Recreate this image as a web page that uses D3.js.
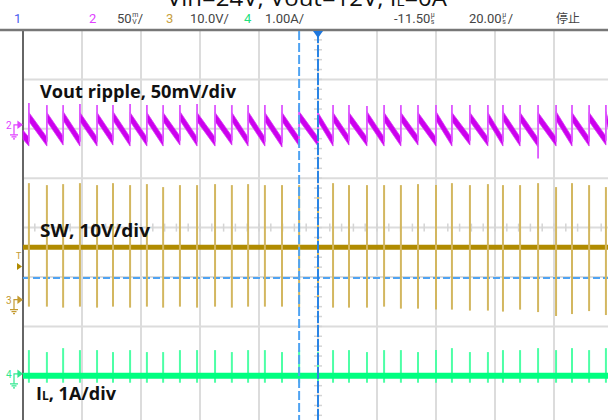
<!DOCTYPE html>
<html><head><meta charset="utf-8">
<script src="https://cdn.jsdelivr.net/npm/d3@7"></script>
<style>html,body{margin:0;padding:0;background:#fff;overflow:hidden}svg{display:block}</style>
</head><body>
<svg id="c" width="608" height="420"></svg>
<script>
// ---- data (time in µs, 20 µs/div, 10 div) ----
const spikeT = [2.0, 8.1, 13.6, 19.3, 25.1, 30.5, 36.3, 42.0, 47.5, 53.2, 59.0, 65.1, 70.8, 76.3, 82.0, 87.8, 93.6, 100.0, 105.1, 110.5, 116.6, 122.4, 128.1, 133.9, 140.0, 145.4, 151.5, 157.6, 162.7, 168.5, 174.6, 180.7, 186.1, 191.9, 197.6];
// CH3 SW node (V)
const swBase = 11.0;
const swTop = [24.0, 23.6, 23.8, 24.0, 23.6, 24.0, 23.6, 23.8, 23.2, 23.6, 23.6, 23.8, 23.6, 23.8, 23.6, 23.6, 23.6, 23.2, 24.0, 23.6, 23.6, 23.6, 23.6, 23.8, 23.6, 24.0, 23.6, 23.8, 23.6, 23.6, 24.0, 23.2, 24.0, 23.6, 23.2];
const swBottom = [-1.0, -1.0, -1.2, -1.0, -1.2, -1.0, -1.2, -1.0, -1.2, -1.0, -1.2, -1.0, -1.2, -1.0, -1.0, -1.0, -1.2, -1.6, -1.2, -1.2, -1.2, -1.0, -1.4, -1.4, -1.6, -1.6, -1.8, -1.8, -2.0, -1.6, -2.1, -2.9, -2.5, -1.9, -2.7];
// CH2 Vout ripple (mV)
const ripStart = -6;
const ripPeak = [12, 12, 13, 12, 12, 13, 12, 12, 12, 13, 12, 12, 12, 13, 12, 12, 13, 12, 12, 12, 13, 12, 12, 12, 13, 12, 12, 12, 13, 12, 12, 13, 12, 12, 13];
const ripValley = [-13, -13, -12, -13, -13, -12, -13, -13, -13, -12, -13, -13, -12, -13, -13, -14, -13, -13, -13, -12, -13, -13, -13, -12, -13, -13, -12, -13, -13, -13, -14, -13, -13, -13, -12];
const ripBand = 4.5; // half-thickness of noisy trace band (mV)
const ripSpike = [26, 24, 24, 25, 24, 24, 25, 24, 24, 24, 25, 24, 24, 24, 24, 24, 24, 23, 24, 24, 23, 24, 24, 24, 24, 24, 24, 24, 24, 24, 24, 24, 24, 24, 24];
const ripSpikeLow = [-13, -13, -12, -13, -13, -12, -13, -13, -13, -12, -13, -13, -12, -13, -13, -14, -13, -13, -13, -12, -13, -13, -13, -12, -13, -13, -12, -13, -13, -13, -30, -13, -13, -13, -12];
// CH4 inductor current (A)
const ilBase = 0.0;
const ilTop = [0.52, 0.48, 0.56, 0.52, 0.52, 0.48, 0.52, 0.48, 0.48, 0.52, 0.52, 0.52, 0.48, 0.52, 0.52, 0.48, 0.52, 0.48, 0.52, 0.52, 0.48, 0.52, 0.52, 0.48, 0.52, 0.56, 0.48, 0.48, 0.52, 0.52, 0.56, 0.52, 0.56, 0.52, 0.56];
const ilBottom = -0.14;
// cursors
const cursorT = 93.6, triggerT = 100.0, trigLevelV = 4.8;
// status bar labels
const statusItems = [
  {x: 14, t: "1", c: "#4a5cf0"},
  {x: 89, t: "2", c: "#e040ff"},
  {x: 166, t: "3", c: "#c8a040"},
  {x: 244, t: "4", c: "#22e080"}
];
const scaleTexts = [
  {x: 117, main: "50", top: "m", bot: "V", tail: "/"},
  {x: 190, main: "10.0V/"},
  {x: 265, main: "1.00A/"},
  {x: 394, main: "-11.50", top: "µ", bot: "s", tail: ""},
  {x: 469, main: "20.00", top: "µ", bot: "s", tail: "/"}
];

// ---- scales ----
const svg = d3.select("#c");
const x = d3.scaleLinear().domain([0, 200]).range([23, 613]);
const yDiv = d3.scaleLinear().domain([-4, 4]).range([425.2, 30]);
const ch2 = v => yDiv(v / 50 + 2.0);   // 50 mV/div
const ch3 = v => yDiv(v / 10 - 1.5);   // 10 V/div
const ch4 = v => yDiv(v / 1 - 3.0);    // 1 A/div

// ---- grid ----
const g = svg.append("g");
const xTicks = d3.range(0, 201, 20);
g.selectAll(".vg").data(xTicks.slice(1)).join("line")
  .attr("x1", d => x(d)).attr("x2", d => x(d)).attr("y1", 30).attr("y2", 420)
  .attr("stroke", "#dcdcdc").attr("stroke-width", 2);
const yTicks = d3.range(-3, 4, 1);
g.selectAll(".hg").data(yTicks).join("line")
  .attr("x1", 23).attr("x2", 608).attr("y1", d => yDiv(d)).attr("y2", d => yDiv(d))
  .attr("stroke", "#dcdcdc").attr("stroke-width", 2);
// minor ticks on center lines
const minorX = d3.range(0, 200.01, 4);
g.selectAll(".mx").data(minorX).join("line")
  .attr("x1", d => x(d)).attr("x2", d => x(d)).attr("y1", yDiv(0) - 4).attr("y2", yDiv(0) + 4)
  .attr("stroke", "#d4d4d4").attr("stroke-width", 1.5);
const minorY = d3.range(-4, 4.01, 0.2);
g.selectAll(".my").data(minorY).join("line")
  .attr("x1", x(100) - 4).attr("x2", x(100) + 4).attr("y1", d => yDiv(d)).attr("y2", d => yDiv(d))
  .attr("stroke", "#d4d4d4").attr("stroke-width", 1.5);

// frame
svg.append("line").attr("x1", 23).attr("x2", 23).attr("y1", 30).attr("y2", 420).attr("stroke", "#666").attr("stroke-width", 2);
svg.append("line").attr("x1", 0).attr("x2", 608).attr("y1", 30).attr("y2", 30).attr("stroke", "#777").attr("stroke-width", 2.5);

// trigger level cursor (horizontal)
svg.append("line").attr("x1", 23).attr("x2", 608).attr("y1", ch3(trigLevelV)).attr("y2", ch3(trigLevelV))
  .attr("stroke", "#4fa3f2").attr("stroke-width", 2).attr("stroke-dasharray", "7,3");

// ---- CH3 SW ----
const sw = svg.append("g");
sw.append("line").attr("x1", x(0)).attr("x2", 608).attr("y1", ch3(swBase)).attr("y2", ch3(swBase))
  .attr("stroke", "#b08b00").attr("stroke-width", 5);
sw.selectAll(".sp").data(spikeT).join("line")
  .attr("x1", d => x(d)).attr("x2", d => x(d))
  .attr("y1", (d, i) => ch3(swTop[i])).attr("y2", (d, i) => ch3(swBottom[i]))
  .attr("stroke", "#d3b760").attr("stroke-width", 2);

// ---- CH2 ripple ----
const rp = svg.append("g");
const area = d3.area().x(d => x(d[0])).y0(d => ch2(d[1] - ripBand)).y1(d => ch2(d[1] + ripBand));
const segs = [[[0, ripStart], [spikeT[0], ripValley[0]]]];
spikeT.forEach((t, i) => {
  const tn = i + 1 < spikeT.length ? spikeT[i + 1] : 200;
  const vn = i + 1 < spikeT.length ? ripValley[i + 1] : ripValley[i];
  segs.push([[t, ripPeak[i]], [tn, vn]]);
});
rp.selectAll(".seg").data(segs).join("path").attr("d", area)
  .attr("fill", "#cc00ee").attr("stroke", "#d633f5").attr("stroke-width", 0.8);
rp.selectAll(".rs").data(spikeT).join("line")
  .attr("x1", d => x(d)).attr("x2", d => x(d))
  .attr("y1", (d, i) => ch2(ripSpike[i])).attr("y2", (d, i) => ch2(ripSpikeLow[i]))
  .attr("stroke", "#dd55ff").attr("stroke-width", 1.8);

// ---- CH4 IL ----
const il = svg.append("g");
il.selectAll(".is").data(spikeT).join("line")
  .attr("x1", d => x(d)).attr("x2", d => x(d))
  .attr("y1", (d, i) => ch4(ilTop[i])).attr("y2", ch4(ilBottom))
  .attr("stroke", "#4dffa6").attr("stroke-width", 2);
il.append("line").attr("x1", x(0)).attr("x2", 608).attr("y1", ch4(ilBase)).attr("y2", ch4(ilBase))
  .attr("stroke", "#00ff80").attr("stroke-width", 6);

// ---- vertical cursors ----
svg.append("line").attr("x1", x(cursorT)).attr("x2", x(cursorT)).attr("y1", 31).attr("y2", 420)
  .attr("stroke", "#4fa3f2").attr("stroke-width", 2).attr("stroke-dasharray", "9,3");
svg.append("line").attr("x1", x(triggerT)).attr("x2", x(triggerT)).attr("y1", 31).attr("y2", 420)
  .attr("stroke", "#2a84e4").attr("stroke-width", 2).attr("stroke-dasharray", "12,2");
svg.append("path").attr("d", `M${x(triggerT) - 5},31 L${x(triggerT) + 5},31 L${x(triggerT)},38 Z`).attr("fill", "#1f78de");

// ---- channel markers ----
function marker(gy, label, color) {
  const m = svg.append("g").attr("stroke", color).attr("fill", "none").attr("stroke-width", 1.2);
  svg.append("text").attr("x", 6).attr("y", gy + 1).text(label)
    .attr("fill", color).attr("font-family", "Roboto, sans-serif").attr("font-size", 10);
  m.append("path").attr("d", `M14,${gy + 7} V${gy - 3} H19`);
  m.append("path").attr("d", `M18,${gy - 6} L22,${gy - 3} L18,${gy} Z`).attr("fill", color);
  m.append("path").attr("d", `M10,${gy + 7} H18 M11.5,${gy + 9} H16.5 M13,${gy + 11} H15`);
}
marker(ch2(0) - 1, "2", "#e040ff");
marker(ch3(0) + 1, "3", "#c39a30");
marker(ch4(0) + 1, "4", "#30e890");
// trigger marker
svg.append("text").attr("x", 16).attr("y", 259).text("T").attr("fill", "#c39a30")
  .attr("font-family", "Roboto, sans-serif").attr("font-size", 9);
svg.append("path").attr("d", "M17,263 L22,266.5 L17,270 Z").attr("fill", "#b08b00");

// ---- status bar ----
const sb = svg.append("g").attr("font-family", "Roboto, 'DejaVu Sans', sans-serif").attr("font-size", 13);
statusItems.forEach(s => sb.append("text").attr("x", s.x).attr("y", 23).attr("fill", s.c).text(s.t));
scaleTexts.forEach(s => {
  const t = sb.append("text").attr("x", s.x).attr("y", 23).attr("fill", "#444").text(s.main);
  if (s.top) {
    const w = t.node().getComputedTextLength();
    sb.append("text").attr("x", s.x + w + 0.5).attr("y", 17).attr("font-size", 7).attr("fill", "#444").text(s.top);
    sb.append("text").attr("x", s.x + w + 0.5).attr("y", 23.5).attr("font-size", 7).attr("fill", "#444").text(s.bot);
    sb.append("text").attr("x", s.x + w + 6).attr("y", 23).attr("fill", "#444").text(s.tail);
  }
});
sb.append("text").attr("x", 556).attr("y", 23).attr("fill", "#444")
  .attr("font-family", "'Noto Sans CJK SC', sans-serif").attr("font-size", 12).text("停止");

// ---- title (cut off at top, as in the original screenshot) ----
const title = svg.append("text").attr("x", 167).attr("y", 6)
  .attr("font-family", "'Open Sans', sans-serif").attr("font-size", 22).attr("fill", "#111")
  .attr("textLength", 280).attr("lengthAdjust", "spacingAndGlyphs");
title.append("tspan").text("Vin=24V, Vout=12V, I");
title.append("tspan").attr("font-size", 14).text("L");
title.append("tspan").text("=0A");

// ---- annotations ----
const ann = svg.append("g").attr("font-family", "'Open Sans', sans-serif").attr("font-weight", "bold").attr("fill", "#111");
ann.append("text").attr("x", 40).attr("y", 98).attr("font-size", 18).text("Vout ripple, 50mV/div")
  .attr("textLength", 196).attr("lengthAdjust", "spacingAndGlyphs");
ann.append("text").attr("x", 40).attr("y", 237).attr("font-size", 18).text("SW, 10V/div")
  .attr("textLength", 110).attr("lengthAdjust", "spacingAndGlyphs");
const ilT = ann.append("text").attr("x", 36).attr("y", 400).attr("font-size", 18)
  .attr("textLength", 80).attr("lengthAdjust", "spacingAndGlyphs");
ilT.append("tspan").text("I");
ilT.append("tspan").attr("font-size", 12).text("L");
ilT.append("tspan").text(", 1A/div");
</script>
</body></html>
